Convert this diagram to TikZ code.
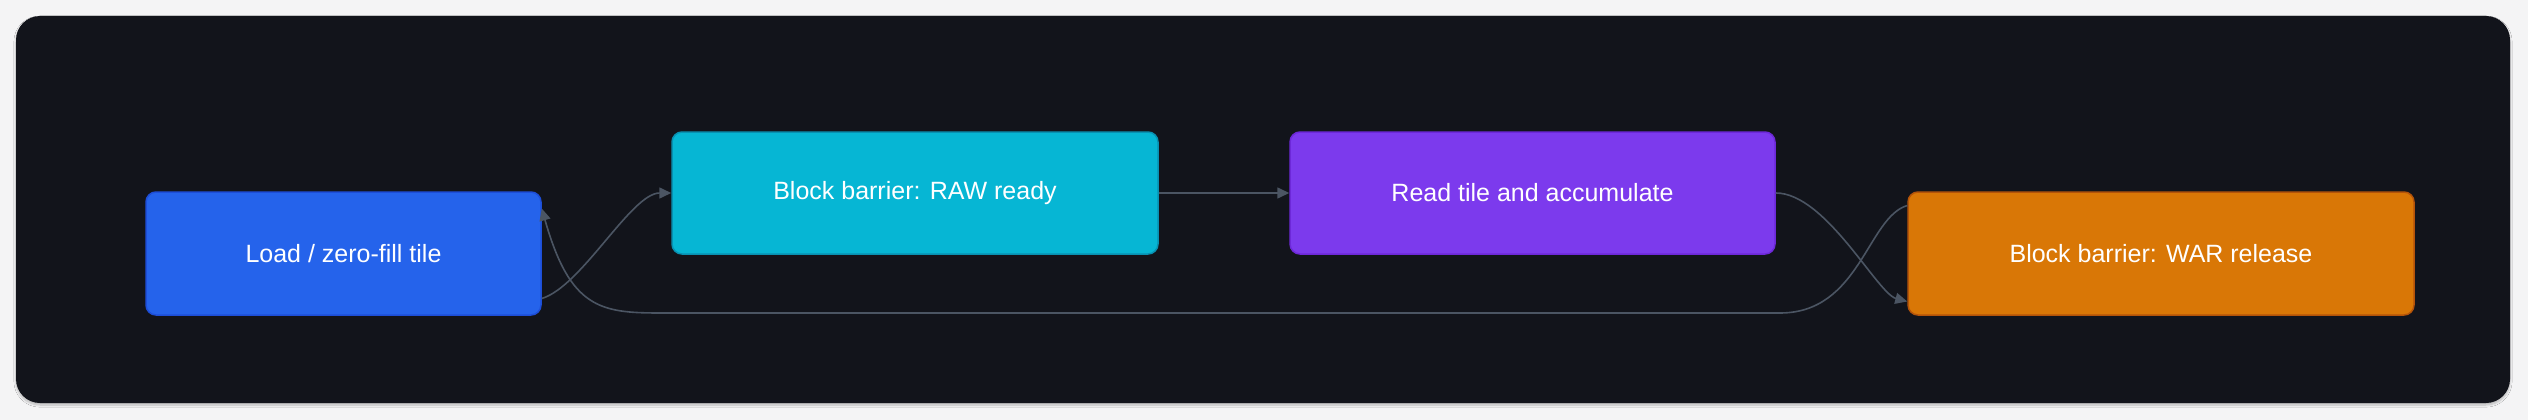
\documentclass[tikz,border=0pt]{standalone}
\usepackage{fontspec}
\setmainfont{Liberation Sans}
\usetikzlibrary{arrows.meta,shadows.blur}
\definecolor{bgout}{HTML}{F4F4F5}
\definecolor{panel}{HTML}{12141B}
\definecolor{edge}{HTML}{4B5563}
\definecolor{cblue}{HTML}{2563EB}\definecolor{dblue}{HTML}{1D4ED8}
\definecolor{ccyan}{HTML}{06B6D4}\definecolor{dcyan}{HTML}{0891B2}
\definecolor{cpurp}{HTML}{7C3AED}\definecolor{dpurp}{HTML}{6D28D9}
\definecolor{corg}{HTML}{D97706}\definecolor{dorg}{HTML}{B45309}
\begin{document}
\begin{tikzpicture}[x=1pt,y=-1pt,
  box/.style={rounded corners=10pt,line width=1.5pt,text=white,font=\fontsize{25}{30}\selectfont,inner sep=0pt},
  arr/.style={draw=edge,line width=1.6pt,-{Triangle[length=12pt,width=11pt]}}]
\useasboundingbox (0,0) rectangle (2528,420);
\fill[bgout] (0,0) rectangle (2528,420);
\fill[panel,rounded corners=24pt,blur shadow={shadow blur steps=8,shadow xshift=0pt,shadow yshift=-2pt,shadow opacity=25}] (16,16) rectangle (2510,403);
\node[box,fill=cblue,draw=dblue,minimum width=395pt,minimum height=123pt] (a) at (343.5,253.5) {Load / zero-fill tile};
\node[box,fill=ccyan,draw=dcyan,minimum width=486pt,minimum height=122pt] (b) at (915,193) {Block barrier: RAW ready};
\node[box,fill=cpurp,draw=dpurp,minimum width=485pt,minimum height=122pt] (c) at (1532.5,193) {Read tile and accumulate};
\node[box,fill=corg,draw=dorg,minimum width=506pt,minimum height=123pt] (d) at (2161,253.5) {Block barrier: WAR release};
\draw[arr] ([yshift=-45pt]a.east) .. controls +(40,-12) and +(-40,0) .. (b.west);
\draw[arr] (b.east) -- (c.west);
\draw[arr] (c.east) .. controls +(50,0) and +(-30,-8) .. ([yshift=-48pt]d.west);
\draw[arr] ([yshift=48pt]d.west) .. controls +(-40,12) and +(80,0) .. (1780,313) -- (660,313) .. controls (600,313) and (570,308) .. ([yshift=45pt]a.east);
\end{tikzpicture}
\end{document}
